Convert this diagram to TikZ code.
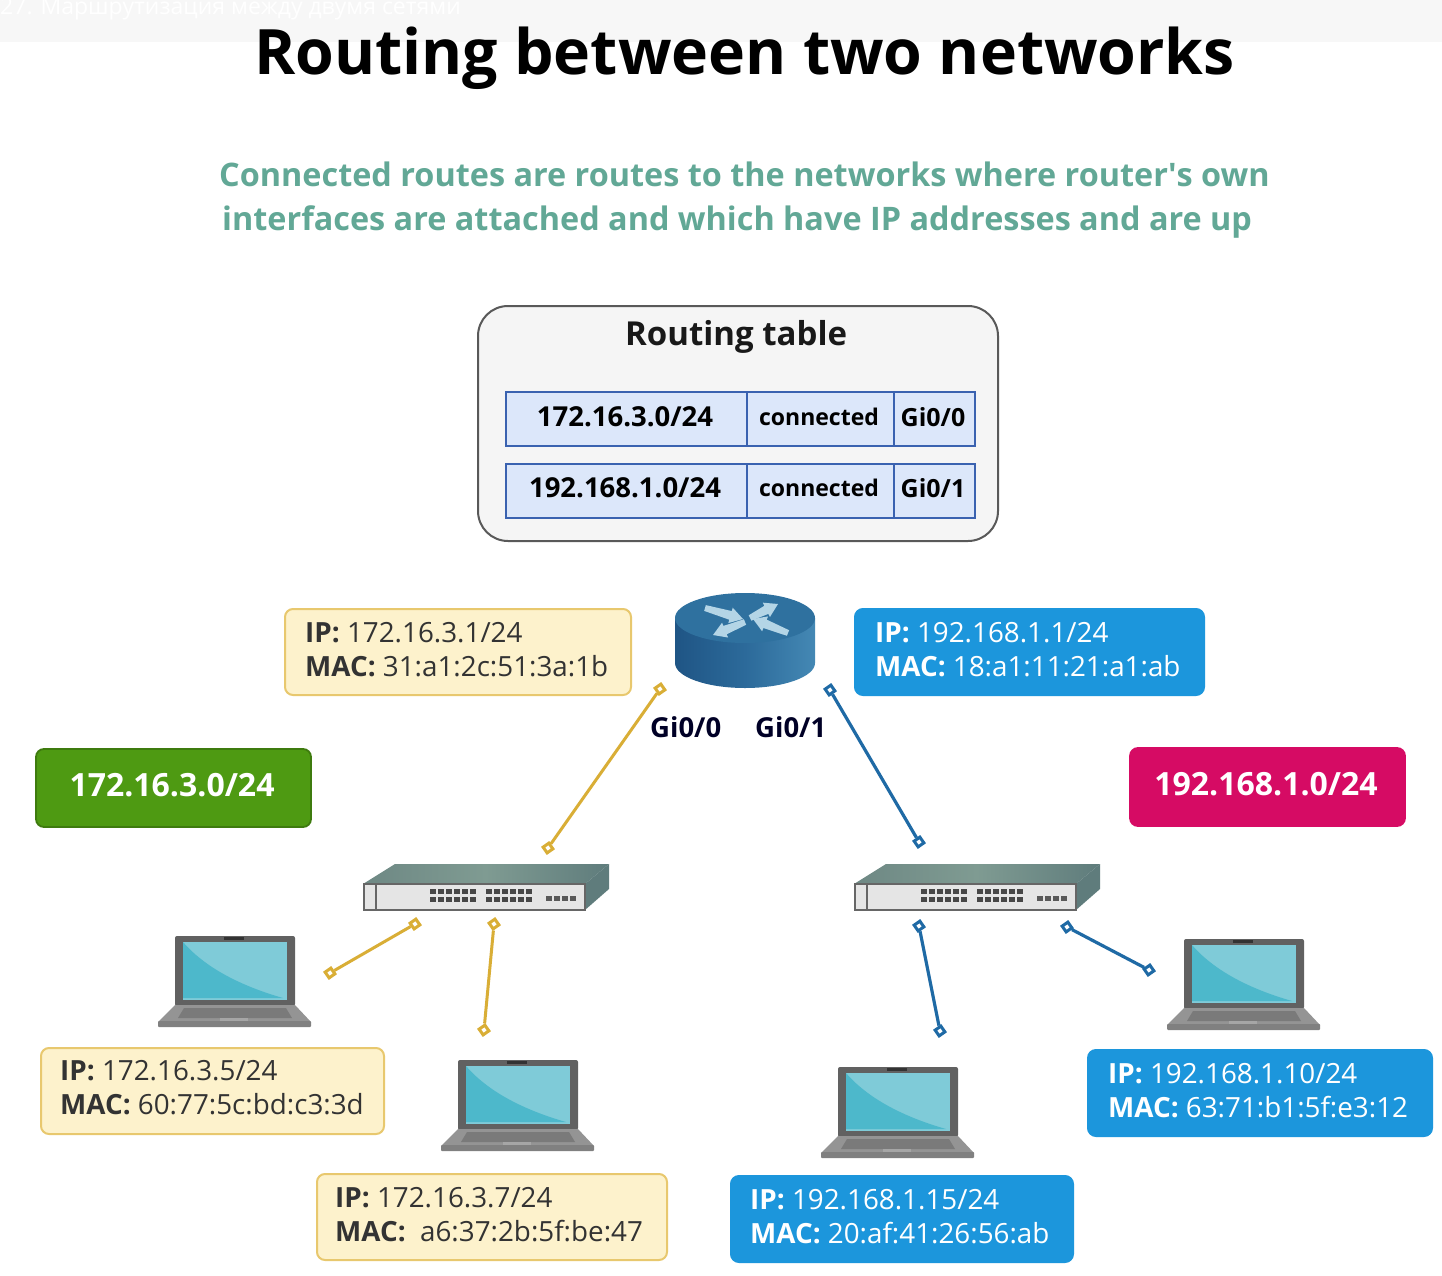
\documentclass[tikz,border=0pt]{standalone}
\usepackage{fontspec}
\setmainfont{Open Sans}
\newfontfamily\plainf{Open Sans}
\newcommand{\strongfont}{\bfseries}
\newcommand{\midfont}{\mdseries}
\newcommand{\sq}{{\plainf\bfseries '}}
\usetikzlibrary{calc}
\definecolor{tealtxt}{HTML}{62A896}
\definecolor{cellfill}{HTML}{DCE7FA}
\definecolor{cellline}{HTML}{3A62B0}
\definecolor{ylwfill}{HTML}{FDF2CC}
\definecolor{ylwline}{HTML}{E8C86E}
\definecolor{bluefill}{HTML}{1C96DC}
\definecolor{yline}{HTML}{D9AE36}
\definecolor{bline}{HTML}{1F6AA5}
\definecolor{dkgreen}{HTML}{4E9A12}
\definecolor{magentab}{HTML}{D60B64}
\definecolor{scrA}{HTML}{7FCBD8}
\definecolor{scrB}{HTML}{4DB8CB}
\definecolor{rtop}{HTML}{2F719F}
\definecolor{rdark}{HTML}{1F5585}
\definecolor{rmid}{HTML}{2C6A9A}
\definecolor{rlight}{HTML}{4488B4}
\definecolor{rarrow}{HTML}{B4D5E6}
\definecolor{swA}{HTML}{6E8884}
\definecolor{swB}{HTML}{7F9B92}
\definecolor{swC}{HTML}{5F7C7C}
\newcommand{\fsz}[1]{\fontsize{#1}{#1}\selectfont}
\tikzset{
  x=1pt,y=-1pt,
  lbl/.style={inner sep=0pt,anchor=base west},
  infoy/.style={draw=ylwline,fill=ylwfill,line width=2pt,rounded corners=8pt},
  infob/.style={draw=bluefill,fill=bluefill,line width=2pt,rounded corners=8pt},
  cellbox/.style={draw=cellline,fill=cellfill,line width=1.8pt,inner sep=0pt,anchor=north west},
  yend/.style={draw=yline,fill=white,line width=3pt,minimum size=7pt,inner sep=0pt,rotate=35},
  bluend/.style={draw=bline,fill=white,line width=3pt,minimum size=7pt,inner sep=0pt,rotate=35},
  ylink/.style={draw=yline,line width=3pt},
  blink/.style={draw=bline,line width=3.2pt},
  laptop/.pic={
    \fill[rounded corners=2pt,fill=black!62] (17,0) rectangle (137,70);
    \fill[fill=black!80] (66,1) rectangle (86,4);
    \fill[fill=scrA] (25,6) rectangle (129,64);
    \fill[fill=scrB] (25,6) .. controls (50,35) and (90,52) .. (125,62) -- (25,62) -- cycle;
    \fill[fill=black!42] (17,69) -- (137,69) -- (153,86) -- (0,86) -- cycle;
    \fill[fill=black!52] (26,72) -- (128,72) -- (134,82) -- (20,82) -- cycle;
    \fill[fill=black!35] (62,82) rectangle (90,86);
    \fill[rounded corners=1pt,fill=black!50] (0,85) rectangle (153,91);
  },
  switchdev/.pic={
    \shade[left color=swA,right color=swC,middle color=swB] (0,21) -- (32,1) -- (246,1) -- (222,21) -- cycle;
    \fill[fill=swC] (222,21) -- (246,1) -- (246,26) -- (222,47) -- cycle;
    \fill[fill=black!10] (0,20) rectangle (222,47);
    \draw[draw=black!60,line width=2.4pt] (1,21) rectangle (222,47);
    \draw[draw=black!60,line width=2pt] (13,21) -- (13,47);
    \foreach \px in {67,75,...,107,123,131,...,163}{
      \fill[fill=black!72] (\px,26) rectangle +(6,5);
      \fill[fill=black!72] (\px,34) rectangle +(6,5);
    }
    \foreach \px in {183,191,199,207}{\fill[fill=black!65] (\px,33) rectangle +(6,5);}
  }
}
\begin{document}
\begin{tikzpicture}
\useasboundingbox (0,0) rectangle (1442,1276);
\fill[white] (0,0) rectangle (1442,1276);
\fill[black!3] (0,0) rectangle (1442,42);
\node[lbl,text=white,font=\fsz{23}] (topcaption) at (0,15) {27. Маршрутизация между двумя сетями};
\node[lbl,text=black,font=\strongfont\fsz{62.6}] (title) at (254,75) {Routing between two networks};
\node[lbl,text=tealtxt,font=\strongfont\fsz{32.4}] (sub1) at (219,187) {Connected routes are routes to the networks where router\sq s own};
\node[lbl,text=tealtxt,font=\strongfont\fsz{32.4}] (sub2) at (222,230) {interfaces are attached and which have IP addresses and are up};
% routing table
\draw[draw=black!65,fill=black!4,line width=2pt,rounded corners=30pt] (478,306) rectangle (998,541);
\node[lbl,font=\strongfont\fsz{33},text=black!90] (rttitle) at (625,345) {Routing table};
\node[cellbox,minimum width=241pt,minimum height=54pt] (c11) at (505,391) {};
\node[cellbox,minimum width=147pt,minimum height=54pt] (c12) at (746,391) {};
\node[cellbox,minimum width=81pt,minimum height=54pt] (c13) at (893,391) {};
\node[cellbox,minimum width=241pt,minimum height=54pt] (c21) at (505,463) {};
\node[cellbox,minimum width=147pt,minimum height=54pt] (c22) at (746,463) {};
\node[cellbox,minimum width=81pt,minimum height=54pt] (c23) at (893,463) {};
\node[font=\strongfont\fsz{27.5}] at (625,417) {172.16.3.0/24};
\node[font=\strongfont\fsz{23}] at (819,417) {connected};
\node[font=\strongfont\fsz{25}] at (933,417) {Gi0/0};
\node[font=\strongfont\fsz{27.5}] at (625,488) {192.168.1.0/24};
\node[font=\strongfont\fsz{23}] at (819,488) {connected};
\node[font=\strongfont\fsz{25}] at (933,488) {Gi0/1};
% router
\shade[left color=rdark,right color=rlight,middle color=rmid] (675,618) -- (675,663) arc[start angle=180,end angle=0,x radius=70,y radius=25] -- (815,618) -- cycle;
\fill[fill=rtop] (745,618) ellipse[x radius=70,y radius=25];
\foreach \ax/\ay/\bx/\by in {705/608/743/619, 788/633/753/619, 750/618/778/604, 745/622/713/635}{
  \pgfmathsetmacro\ang{atan2(\ay-\by,\bx-\ax)}
  \pgfmathsetmacro\len{veclen(\bx-\ax,\by-\ay)}
  \begin{scope}[shift={(\ax,\ay)},rotate=\ang]
    \fill[fill=rarrow] (0,-3) -- (\len-13,-4.5) -- (\len-13,-8) -- (\len,0) -- (\len-13,8) -- (\len-13,4.5) -- (0,3) -- cycle;
  \end{scope}
}
% info boxes
\draw[infoy] (285,609) rectangle (631,695);
\node[lbl,font=\midfont\fsz{27.8},text=black!80] at (305,642) {\strongfont IP:\midfont{} 172.16.3.1/24};
\node[lbl,font=\midfont\fsz{27.8},text=black!80] at (305,676) {\strongfont MAC:\midfont{} 31:a1:2c:51:3a:1b};
\draw[infob] (855,609) rectangle (1204,695);
\node[lbl,font=\midfont\fsz{27.8},text=white] at (875,642) {\strongfont IP:\midfont{} 192.168.1.1/24};
\node[lbl,font=\midfont\fsz{27.8},text=white] at (875,676) {\strongfont MAC:\midfont{} 18:a1:11:21:a1:ab};
\draw[infoy] (41,1048) rectangle (384,1134);
\node[lbl,font=\midfont\fsz{27.8},text=black!80] at (60,1080) {\strongfont IP:\midfont{} 172.16.3.5/24};
\node[lbl,font=\midfont\fsz{27.8},text=black!80] at (60,1114) {\strongfont MAC:\midfont{} 60:77:5c:bd:c3:3d};
\draw[infoy] (317,1174) rectangle (667,1260);
\node[lbl,font=\midfont\fsz{27.8},text=black!80] at (335,1207) {\strongfont IP:\midfont{} 172.16.3.7/24};
\node[lbl,font=\midfont\fsz{27.8},text=black!80] at (335,1241) {\strongfont MAC:\midfont{}\ \ a6:37:2b:5f:be:47};
\draw[infob] (731,1176) rectangle (1073,1262);
\node[lbl,font=\midfont\fsz{27.8},text=white] at (750,1209) {\strongfont IP:\midfont{} 192.168.1.15/24};
\node[lbl,font=\midfont\fsz{27.8},text=white] at (750,1243) {\strongfont MAC:\midfont{} 20:af:41:26:56:ab};
\draw[infob] (1088,1050) rectangle (1432,1136);
\node[lbl,font=\midfont\fsz{27.8},text=white] at (1108,1083) {\strongfont IP:\midfont{} 192.168.1.10/24};
\node[lbl,font=\midfont\fsz{27.8},text=white] at (1108,1117) {\strongfont MAC:\midfont{} 63:71:b1:5f:e3:12};
% port labels
\node[lbl,font=\strongfont\fsz{27.5},text=black!85!blue] (gi0) at (650,737) {Gi0/0};
\node[lbl,font=\strongfont\fsz{27.5},text=black!85!blue] (gi1) at (755,737) {Gi0/1};
% network boxes
\draw[draw=dkgreen!80!black,fill=dkgreen,line width=1.8pt,rounded corners=8pt] (36,749) rectangle (311,827);
\node[font=\strongfont\fsz{32},text=white] (net1) at (172,785) {172.16.3.0/24};
\draw[draw=magentab,fill=magentab,line width=1.8pt,rounded corners=8pt] (1130,748) rectangle (1405,826);
\node[font=\strongfont\fsz{32},text=white] (net2) at (1266,784) {192.168.1.0/24};
% devices
\pic at (363,863) {switchdev};
\pic at (854,863) {switchdev};
\pic at (158,936) {laptop};
\pic at (441,1060) {laptop};
\pic at (821,1067) {laptop};
\pic at (1167,939) {laptop};
% connector ends
\node[yend] (a1) at (660,689) {};
\node[yend] (a2) at (548,848) {};
\node[bluend] (b1) at (830,690) {};
\node[bluend] (b2) at (919,842) {};
\node[yend] (a3) at (415,924) {};
\node[yend] (a4) at (330,973) {};
\node[yend] (a5) at (494,924) {};
\node[yend] (a6) at (484,1030) {};
\node[bluend] (b3) at (919,926) {};
\node[bluend] (b4) at (940,1031) {};
\node[bluend] (b5) at (1067,927) {};
\node[bluend] (b6) at (1149,970) {};
\draw[ylink] (a1) -- (a2);
\draw[ylink] (a3) -- (a4);
\draw[ylink] (a5) -- (a6);
\draw[blink] (b1) -- (b2);
\draw[blink] (b3) -- (b4);
\draw[blink] (b5) -- (b6);
\end{tikzpicture}
\end{document}
